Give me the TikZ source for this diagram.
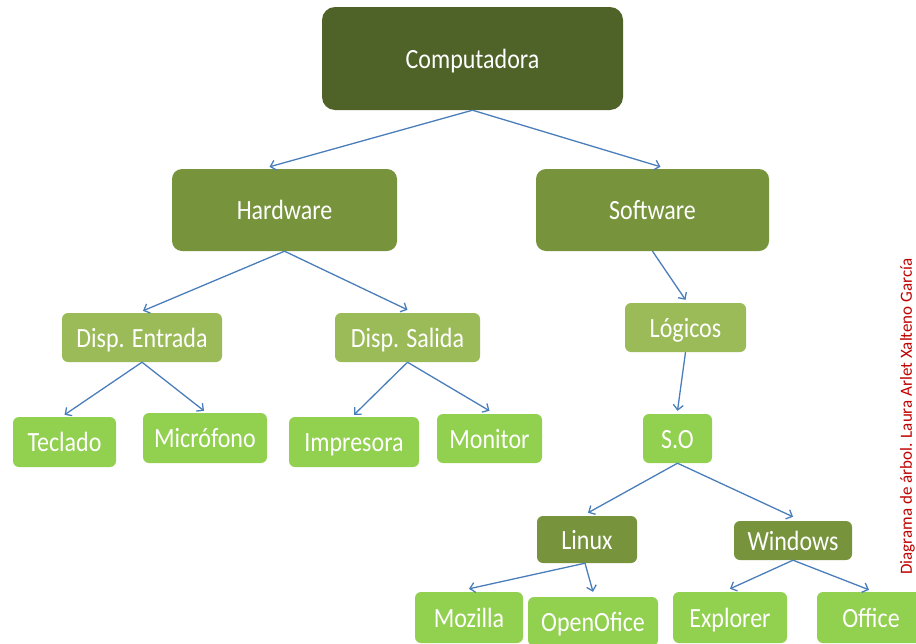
\documentclass[tikz,border=0pt]{standalone}
\usepackage{graphicx}
\usepackage{fontspec}
\setmainfont{Carlito}
\usetikzlibrary{arrows.meta}
\definecolor{lvA}{HTML}{4F6228}
\definecolor{lvB}{HTML}{77933C}
\definecolor{lvC}{HTML}{9BBB59}
\definecolor{lvD}{HTML}{92D050}
\definecolor{connblue}{HTML}{4A7EBB}
\definecolor{creditred}{HTML}{C00000}
\newcommand\tallt[1]{\scalebox{1}[1.16]{#1}}
\begin{document}
\begin{tikzpicture}[x=1pt,y=-1pt,
  box/.style={rounded corners=6pt, text=white, inner sep=0pt, anchor=center,
    font=\fontsize{24}{28}\selectfont, text height=21pt, text depth=2pt},
  topbox/.style={box, fill=lvA, rounded corners=13pt},
  midbox/.style={box, fill=lvB, rounded corners=10pt},
  osbox/.style={box, fill=lvB},
  catbox/.style={box, fill=lvC},
  leafbox/.style={box, fill=lvD},
  conn/.style={draw=connblue, line width=1.3pt, -{Straight Barb[length=5pt,width=10pt]}}
]
\useasboundingbox (0,0) rectangle (916,643);
\node[topbox, minimum width=301pt, minimum height=103pt] (comp) at (472.5,58.5) {\tallt{Computadora}};
\node[midbox, minimum width=225pt, minimum height=82pt] (hw) at (284.5,210) {\tallt{Hardware}};
\node[midbox, minimum width=233pt, minimum height=82pt] (sw) at (652.5,210) {\tallt{Software}};
\node[catbox, minimum width=160pt, minimum height=49pt] (de) at (142,337.5) {\tallt{Disp. Entrada}};
\node[catbox, minimum width=145pt, minimum height=49pt] (ds) at (407.5,337.5) {\tallt{Disp. Salida}};
\node[catbox, minimum width=121pt, minimum height=49pt] (log) at (685.5,327.5) {\tallt{Lógicos}};
\node[leafbox, minimum width=103pt, minimum height=50pt] (tec) at (64.5,442) {\tallt{Teclado}};
\node[leafbox, minimum width=124pt, minimum height=50pt] (mic) at (205,438) {\tallt{Micrófono}};
\node[leafbox, minimum width=130pt, minimum height=50pt] (imp) at (354,442) {\tallt{Impresora}};
\node[leafbox, minimum width=105pt, minimum height=49pt] (mon) at (489.5,438.5) {\tallt{Monitor}};
\node[leafbox, minimum width=69pt, minimum height=49pt] (so) at (677.5,438.5) {\tallt{S.O}};
\node[osbox, minimum width=100pt, minimum height=47pt] (lin) at (587,539.5) {\tallt{Linux}};
\node[osbox, minimum width=118pt, minimum height=39pt] (win) at (793,540.5) {\tallt{Windows}};
\node[leafbox, minimum width=108pt, minimum height=51pt] (moz) at (469,617.5) {\tallt{Mozilla}};
\node[leafbox, minimum width=130pt, minimum height=49pt] (oo) at (593,621.5) {\tallt{OpenOfice}};
\node[leafbox, minimum width=114pt, minimum height=51pt] (exp) at (730,617.5) {\tallt{Explorer}};
\node[leafbox, minimum width=108pt, minimum height=51pt] (off) at (871,617.5) {\tallt{Office}};
\node[rotate=90, text=creditred, inner sep=0pt, font=\fontsize{17}{20}\selectfont] (credit) at (907.5,416.5) {Diagrama de árbol. Laura Arlet Xalteno García};
\draw[conn] (comp.south) -- ([xshift=-15pt,yshift=2pt]hw.north);
\draw[conn] (comp.south) -- ([xshift=8pt,yshift=2pt]sw.north);
\draw[conn] (hw.south) -- ([xshift=1pt,yshift=2pt]de.north);
\draw[conn] (hw.south) -- ([yshift=3pt]ds.north);
\draw[conn] (sw.south) -- ([yshift=3pt]log.north);
\draw[conn] (log.south) -- ([yshift=3pt]so.north);
\draw[conn] (de.south) -- ([yshift=2pt]tec.north);
\draw[conn] (de.south) -- ([xshift=-1pt,yshift=2pt]mic.north);
\draw[conn] (ds.south) -- ([yshift=2pt]imp.north);
\draw[conn] (ds.south) -- ([yshift=3pt]mon.north);
\draw[conn] (so.south) -- ([xshift=1pt,yshift=3pt]lin.north);
\draw[conn] (so.south) -- ([yshift=4pt]win.north);
\draw[conn] ([xshift=-2pt]lin.south) -- ([yshift=3pt]moz.north);
\draw[conn] ([xshift=-2pt]lin.south) -- ([yshift=5pt]oo.north);
\draw[conn] (win.south) -- ([yshift=3pt]exp.north);
\draw[conn] (win.south) -- ([xshift=-2pt,yshift=2pt]off.north);
\end{tikzpicture}
\end{document}
